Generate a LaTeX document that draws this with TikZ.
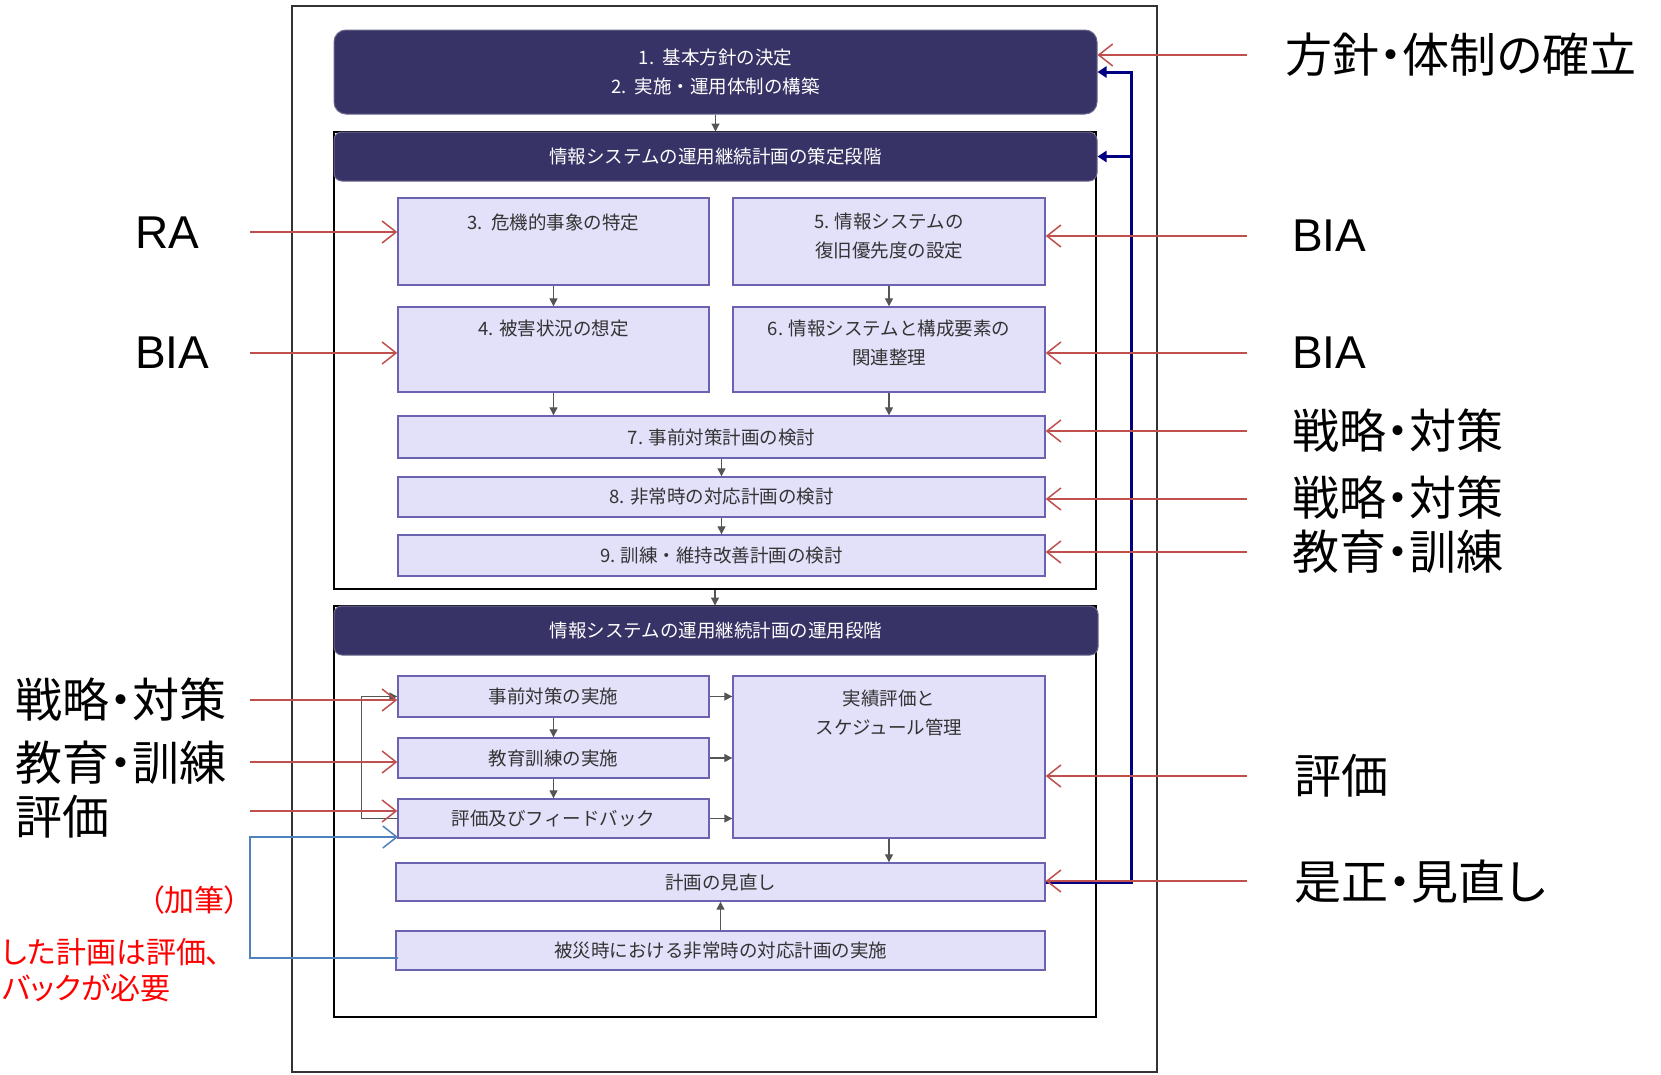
\documentclass[tikz,border=0pt]{standalone}
\usepackage{fontspec}
\setmainfont{Noto Sans CJK JP}
\newfontfamily\jp{Noto Sans CJK JP}
\newfontfamily\jpp[RawFeature=+palt]{Noto Sans CJK JP}
\newfontfamily\latf{Liberation Sans}
\usetikzlibrary{arrows.meta}
\definecolor{hdrc}{HTML}{383366}
\definecolor{boxfill}{HTML}{E3E0FA}
\definecolor{boxline}{HTML}{6B63B0}
\definecolor{garrc}{HTML}{555555}
\definecolor{redc}{HTML}{C0504D}
\definecolor{lblue}{HTML}{4F81BD}
\definecolor{navyc}{HTML}{000080}
\definecolor{txtc}{HTML}{333333}
\definecolor{notered}{HTML}{FF0000}
\newcommand\intxt{\jp\fontsize{18.5}{29}\selectfont}
\newcommand\biglab{\jpp\fontsize{47}{52}\selectfont}
\newcommand\latlab{\latf\fontsize{46}{50}\selectfont}
\newcommand\notef{\jpp\fontsize{30}{36}\selectfont}
\begin{document}
\begin{tikzpicture}[x=1pt,y=-1pt,
  box/.style={draw=boxline, fill=boxfill, line width=1.4pt, inner sep=0pt, text=txtc, font=\intxt, align=center},
  hdr/.style={fill=hdrc, draw=hdrc!75!white, line width=1pt, text=white, font=\intxt, inner sep=0pt, align=center},
  framebox/.style={draw=black, line width=1.3pt, inner sep=0pt},
  intext/.style={text=txtc, font=\intxt, align=center, inner sep=0pt},
  garr/.style={draw=garrc, line width=1.3pt, -{Triangle[length=8pt,width=8pt]}},
  rarr/.style={draw=redc, line width=1.5pt, -{Straight Barb[length=14pt,width=22pt,line width=1.5pt]}},
  barr/.style={draw=lblue, line width=1.5pt, -{Straight Barb[length=14pt,width=22pt,line width=1.5pt]}},
  navyl/.style={draw=navyc, line width=3pt},
  navyarr/.style={draw=navyc, line width=3pt, -{Triangle[length=9pt,width=11pt]}},
  lab/.style={font=\biglab, anchor=west, inner sep=0pt, text=black},
  latlabel/.style={font=\latlab, anchor=west, inner sep=0pt, text=black},
  note/.style={text=notered, font=\notef, anchor=west, inner sep=0pt}
]
\useasboundingbox (0,0) rectangle (1661,1074);
\fill[white] (0,0) rectangle (1661,1074);

% outer and section frames
\node[draw=black!80, line width=1.3pt, inner sep=0pt, minimum width=865pt, minimum height=1066pt] (outer) at (724.5,539) {};
\node[framebox, minimum width=762pt, minimum height=457pt] (f1) at (715,360.5) {};
\node[framebox, minimum width=762pt, minimum height=411pt] (f2) at (715,811.5) {};

% headers
\node[hdr, rounded corners=12pt, minimum width=763pt, minimum height=84pt] (top) at (715.5,72) {1.\ \ 基本方針の決定\\2.\ \ 実施・運用体制の構築};
\node[hdr, rounded corners=8pt, minimum width=763pt, minimum height=49pt] (hdr1) at (715.5,156.5) {情報システムの運用継続計画の策定段階};
\node[hdr, rounded corners=8pt, minimum width=764pt, minimum height=49pt] (hdr2) at (716,630.5) {情報システムの運用継続計画の運用段階};

% section 1 boxes
\node[box, minimum width=311pt, minimum height=87pt] (b3) at (553.5,241.5) {};
\node[intext] (t3) at (553.5,222) {3.\ \ 危機的事象の特定};
\node[box, minimum width=312pt, minimum height=87pt] (b5) at (889,241.5) {};
\node[intext] (t5) at (889,236) {5. 情報システムの\\復旧優先度の設定};
\node[box, minimum width=311pt, minimum height=85pt] (b4) at (553.5,349.5) {};
\node[intext] (t4) at (553.5,328) {4. 被害状況の想定};
\node[box, minimum width=312pt, minimum height=85pt] (b6) at (889,349.5) {};
\node[intext] (t6) at (889,343) {6. 情報システムと構成要素の\\関連整理};
\node[box, minimum width=647pt, minimum height=42pt] (b7) at (721.5,437) {7. 事前対策計画の検討};
\node[box, minimum width=647pt, minimum height=40pt] (b8) at (721.5,497) {8. 非常時の対応計画の検討};
\node[box, minimum width=647pt, minimum height=41pt] (b9) at (721.5,555.5) {9. 訓練・維持改善計画の検討};

% section 2 boxes
\node[box, minimum width=311pt, minimum height=41pt] (e1) at (553.5,696.5) {事前対策の実施};
\node[box, minimum width=311pt, minimum height=40pt] (e2) at (553.5,758) {教育訓練の実施};
\node[box, minimum width=311pt, minimum height=39pt] (e3) at (553.5,818.5) {評価及びフィードバック};
\node[box, minimum width=312pt, minimum height=162pt] (jk) at (889,757) {};
\node[intext] (tjk) at (889,712.5) {実績評価と\\スケジュール管理};
\node[box, minimum width=649pt, minimum height=38pt] (mn) at (720.5,882) {計画の見直し};
\node[box, minimum width=649pt, minimum height=39pt] (hs) at (720.5,950.5) {被災時における非常時の対応計画の実施};

% gray flow arrows
\draw[garr] (top.south) -- (hdr1.north);
\draw[garr] (f1.south) -- (f1.south |- hdr2.north);
\draw[garr] (b3.south) -- (b4.north);
\draw[garr] (b5.south) -- (b6.north);
\draw[garr] (b4.south) -- (b4.south |- b7.north);
\draw[garr] (b6.south) -- (b6.south |- b7.north);
\draw[garr] (b7.south) -- (b8.north);
\draw[garr] (b8.south) -- (b9.north);
\draw[garr] (e1.south) -- (e2.north);
\draw[garr] (e2.south) -- (e3.north);
\draw[garr] (e1.east) -- (e1.east -| jk.west);
\draw[garr] (e2.east) -- (e2.east -| jk.west);
\draw[garr] (e3.east) -- (e3.east -| jk.west);
\draw[garr] (jk.south) -- (jk.south |- mn.north);
\draw[garr] (hs.north) -- (mn.south);
\draw[garr] (e3.west) -- ++(-36,0) |- (e1.west);

% navy feedback loop
\coordinate (nvB) at (1131,882);
\coordinate (nvT) at (1131,72);
\coordinate (nvM) at (1131,156.5);
\draw[navyarr] (mn.east) -- (nvB) -- (nvT) -- (top.east);
\draw[navyarr] (nvM) -- (hdr1.east);

% right labels
\node[lab, anchor=west] (L1) at (1285,55) {方針・体制の確立};
\node[latlabel] (L2) at (1292,236) {BIA};
\node[latlabel] (L3) at (1292,353) {BIA};
\node[lab] (L4) at (1292,431) {戦略・対策};
\node[lab] (L5) at (1292,498) {戦略・対策};
\node[lab] (L6) at (1292,552) {教育・訓練};
\node[lab] (L7) at (1294,776) {評価};
\node[lab] (L8) at (1294,882) {是正・見直し};
\coordinate (rs1) at (1247,55);
\coordinate (rs2) at (1247,236);
\coordinate (rs3) at (1247,353);
\coordinate (rs4) at (1247,431);
\coordinate (rs5) at (1247,499);
\coordinate (rs6) at (1247,552);
\coordinate (rs7) at (1247,776);
\coordinate (rs8) at (1247,881);
\draw[rarr] (rs1) -- (rs1 -| top.east);
\draw[rarr] (rs2) -- (rs2 -| b5.east);
\draw[rarr] (rs3) -- (rs3 -| b6.east);
\draw[rarr] (rs4) -- (rs4 -| b7.east);
\draw[rarr] (rs5) -- (rs5 -| b8.east);
\draw[rarr] (rs6) -- (rs6 -| b9.east);
\draw[rarr] (rs7) -- (rs7 -| jk.east);
\draw[rarr] (rs8) -- (rs8 -| mn.east);

% left labels
\node[latlabel] (R1) at (135,233) {RA};
\node[latlabel] (R2) at (135,353) {BIA};
\node[lab] (R3) at (15,700) {戦略・対策};
\node[lab] (R4) at (15,763) {教育・訓練};
\node[lab] (R5) at (15,817) {評価};
\coordinate (ls1) at (250,232);
\coordinate (ls2) at (250,353);
\coordinate (ls3) at (250,700);
\coordinate (ls4) at (250,762);
\coordinate (ls5) at (250,811);
\draw[rarr] (ls1) -- (ls1 -| b3.west);
\draw[rarr] (ls2) -- (ls2 -| b4.west);
\draw[rarr] (ls3) -- (ls3 -| e1.west);
\draw[rarr] (ls4) -- (ls4 -| e2.west);
\draw[rarr] (ls5) -- (ls5 -| e3.west);

% light blue added loop
\coordinate (hsw) at (398,958);
\coordinate (blc) at (250,958);
\coordinate (e3w) at (398,837);
\draw[barr] (hsw) -- (blc) |- (e3w);

% red notes
\node[note, anchor=east] (n1) at (240,900) {（加筆）};
\node[note] (n2) at (2,952) {した計画は評価、};
\node[note] (n3) at (2,988) {バックが必要};
\end{tikzpicture}
\end{document}
